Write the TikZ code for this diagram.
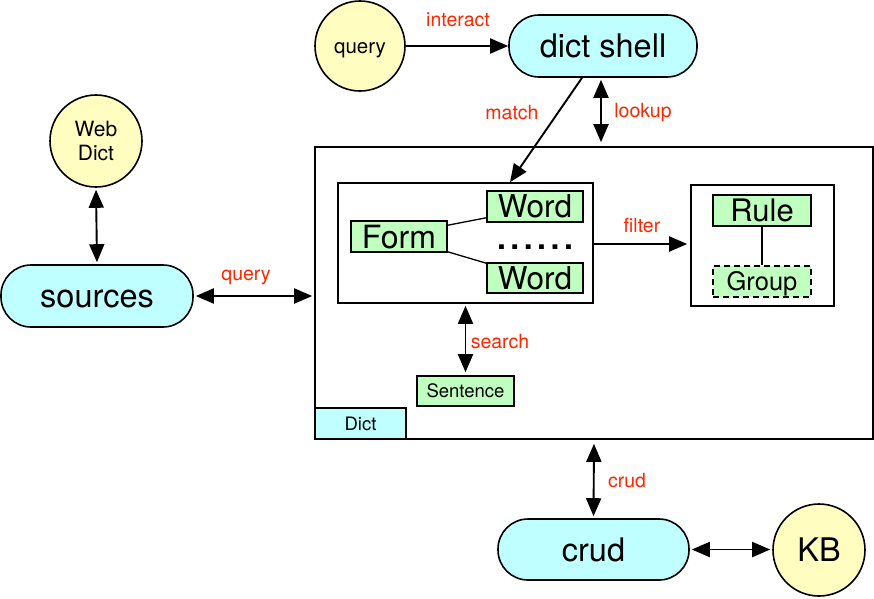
\documentclass[tikz,border=0pt]{standalone}
\usepackage{fontspec}
\setmainfont{TeX Gyre Heros}
\usetikzlibrary{arrows.meta}
\definecolor{ylw}{RGB}{255,254,192}
\definecolor{cyn}{RGB}{192,255,255}
\definecolor{grn}{RGB}{192,255,192}
\definecolor{lbl}{RGB}{255,38,0}
\newcommand{\fs}[1]{\fontsize{#1}{#1}\selectfont}
\tikzset{
  base/.style={draw=black, line width=1.6pt, inner sep=0pt, align=center},
  fz/.style 2 args={font=\fs{#1}, text height=#2, text depth=0pt},
  circ/.style={base, circle, fill=ylw, minimum size=#1},
  pill/.style={base, rectangle, rounded corners=30pt, fill=cyn, fz={32.5}{23.4pt}},
  gbox/.style={base, rectangle, fill=grn},
  wbox/.style={base, rectangle, fill=white},
  lab/.style={text=lbl, font=\fs{19.5}, inner sep=0pt},
  conn/.style={line width=1.9pt},
  biarr/.style={conn, {Triangle[length=18pt,width=15pt]}-{Triangle[length=18pt,width=15pt]}},
  onearr/.style={conn, -{Triangle[length=18pt,width=15pt]}}
}
\begin{document}
\begin{tikzpicture}[x=1pt,y=-1pt]
\useasboundingbox (0,0) rectangle (874,598);
% outer dict box
\node[wbox, minimum width=558pt, minimum height=292pt] (dictbox) at (594,293) {};
\node[base, rectangle, fill=cyn, minimum width=91pt, minimum height=31pt, fz={18.5}{13.3pt}] (dicttab) at (360.5,423.5) {Dict};
% top
\node[circ=90pt, fz={20.5}{14.8pt}] (query) at (360,46) {query};
\node[pill, minimum width=188pt, minimum height=62pt] (shell) at (603,46) {dict shell};
% left
\node[circ=92pt, font=\fontsize{21}{24}\selectfont] (webdict) at (96,141) {Web\\Dict};
\node[pill, minimum width=192pt, minimum height=62pt] (sources) at (97,296) {sources};
% inner box 1
\node[wbox, minimum width=255pt, minimum height=120pt] (box1) at (465.5,243) {};
\node[gbox, minimum width=96pt, minimum height=31pt, fz={31.5}{22.7pt}] (word1) at (535,206.5) {Word};
\node[gbox, minimum width=96pt, minimum height=30pt, fz={31.5}{22.7pt}] (word2) at (535,278) {Word};
\node[gbox, minimum width=96pt, minimum height=31pt, fz={32}{23pt}] (form) at (399,236.5) {Form};
\node[inner sep=0pt, font=\fs{32}\bfseries] (dots) at (535,247) {.\hspace{4.5pt}.\hspace{4.5pt}.\hspace{4.5pt}.\hspace{4.5pt}.\hspace{4.5pt}.};
% rule box
\node[wbox, minimum width=143pt, minimum height=121pt] (rulebox) at (762.5,245.5) {};
\node[gbox, minimum width=98pt, minimum height=31pt, fz={31}{22.3pt}] (rule) at (762,210.5) {Rule};
\node[gbox, dashed, dash pattern=on 6pt off 4pt, minimum width=98pt, minimum height=31pt, fz={25.5}{18.4pt}] (group) at (762,281.5) {Group};
% sentence
\node[gbox, minimum width=97pt, minimum height=30pt, fz={18.5}{13.3pt}] (sentence) at (465.5,391) {Sentence};
% bottom
\node[pill, minimum width=191pt, minimum height=61pt] (crud) at (593.5,549.5) {crud};
\node[circ=92pt, fz={32.5}{23.4pt}] (kb) at (819,550) {KB};
% connectors
\draw[onearr] (query) -- (shell);
\draw[onearr] ([xshift=-21pt]shell.south) -- ([xshift=44.5pt]box1.north);
\draw[biarr] ([xshift=-2pt,yshift=-2pt]shell.south) -- ([xshift=7pt,yshift=4pt]dictbox.north);
\draw[conn, line width=1.3pt] ([yshift=-5pt]form.north east) -- ([yshift=5pt]word1.south west);
\draw[conn, line width=1.3pt] ([yshift=1pt]form.south east) -- ([yshift=-1pt]word2.north west);
\draw[onearr, shorten >=3pt] ([yshift=-1pt]box1.east) -- ([yshift=-1pt]box1.east -| rulebox.west);
\draw[conn, line width=1.3pt] (rule) -- (group);
\draw[biarr, shorten <=2pt, shorten >=3pt] (box1.south) -- (sentence.north);
\draw[biarr, shorten <=2pt, shorten >=2pt] (webdict.south) -- (sources.north);
\draw[biarr, shorten <=2pt, shorten >=2pt] (sources.east) -- (sources.east -| dictbox.west);
\draw[biarr, shorten <=4pt, shorten >=2pt] (dictbox.south) -- (crud.north);
\draw[biarr, shorten <=2pt, shorten >=2pt] (crud.east) -- (crud.east -| kb.west);
% labels
\node[lab] (linteract) at (458,20) {interact};
\node[lab] (lmatch) at (512,113) {match};
\node[lab] (llookup) at (643,113) {lookup};
\node[lab] (lfilter) at (642,226) {filter};
\node[lab] (lquery) at (246,277) {query};
\node[lab] (lsearch) at (500,342) {search};
\node[lab] (lcrud) at (627,481) {crud};
\end{tikzpicture}
\end{document}
